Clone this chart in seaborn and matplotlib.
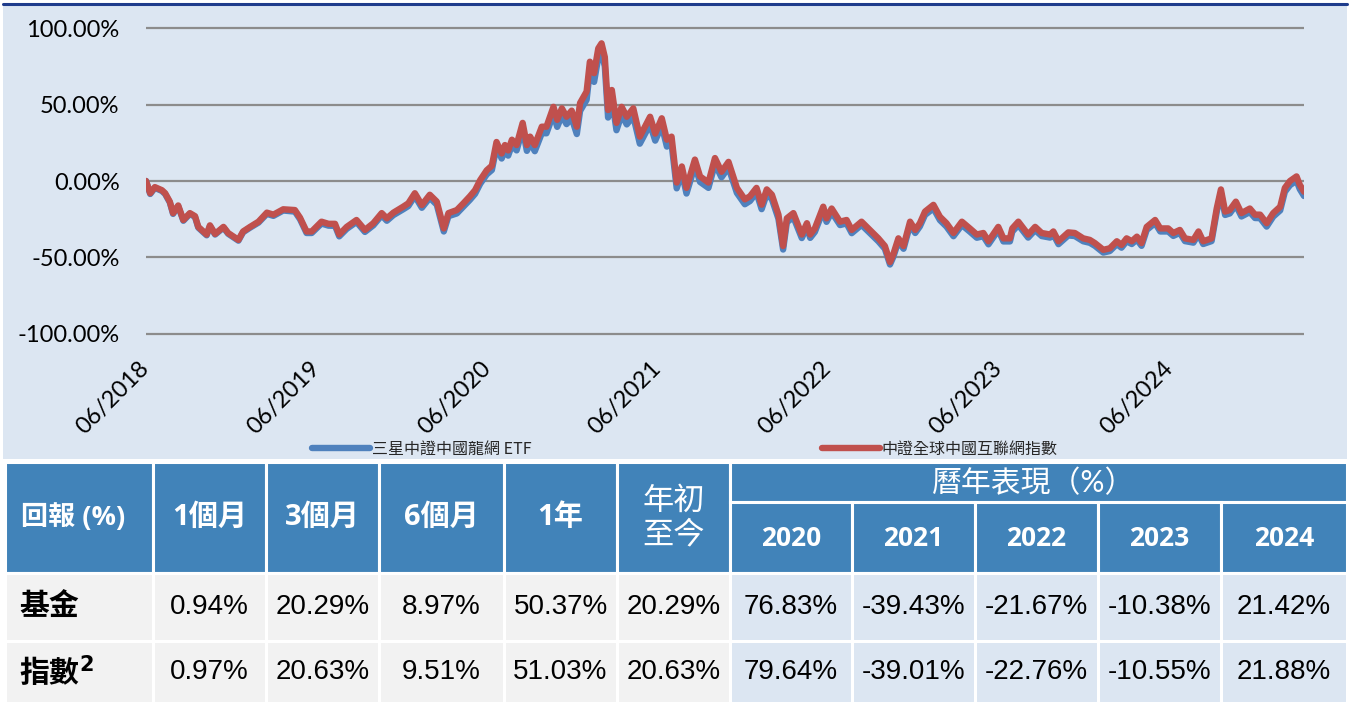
import numpy as np
import pandas as pd
import seaborn as sns
import matplotlib.pyplot as plt
import matplotlib.dates as mdates
from matplotlib.patches import Rectangle
from matplotlib.lines import Line2D
from matplotlib.ticker import FuncFormatter

# ---- 數據 ----
launch = pd.Timestamp('2018-06-15')
days = [0, 9, 19, 34, 41, 51, 58, 69, 80, 94, 105, 112, 130, 137, 148, 166, 176, 198, 208, 223,
        241, 259, 273, 294, 319, 330, 344, 355, 376, 391, 405, 414, 430, 451, 469, 487, 505, 516, 530, 551,
        562, 576, 591, 608, 623, 638, 648, 666, 680, 694, 705, 716, 730, 741, 751, 762, 769, 776, 784, 794,
        807, 816, 823, 833, 848, 858, 873, 881, 891, 901, 912, 923, 930, 944, 951, 960, 969, 976, 983, 990,
        998, 1008, 1019, 1030, 1044, 1058, 1069, 1080, 1091, 1105, 1116, 1126, 1137, 1148, 1158, 1176, 1187, 1205, 1219, 1233,
        1248, 1266, 1283, 1294, 1308, 1319, 1330, 1341, 1355, 1365, 1373, 1387, 1405, 1416, 1423, 1433, 1451, 1458, 1469, 1487,
        1501, 1512, 1533, 1551, 1569, 1583, 1594, 1601, 1612, 1623, 1637, 1648, 1658, 1669, 1687, 1701, 1715, 1730, 1748, 1765,
        1780, 1794, 1805, 1826, 1837, 1851, 1856, 1869, 1890, 1905, 1919, 1937, 1944, 1955, 1976, 1990, 2008, 2022, 2033, 2051,
        2065, 2080, 2090, 2101, 2112, 2123, 2133, 2144, 2162, 2173, 2190, 2201, 2215, 2226, 2244, 2255, 2265, 2283, 2294, 2303,
        2312, 2322, 2335, 2347, 2365, 2376, 2387, 2401, 2415, 2430, 2440, 2451, 2465, 2472, 2481]

index_ret = [0, -8, -4, -6, -8, -13.5, -21, -16, -25.5, -21, -23, -30, -35, -29, -34.6, -30, -34, -38.5, -33, -30,
             -26.6, -20.7, -22, -18.5, -19, -24, -33, -33, -26.6, -28, -28, -35, -30, -25.5, -32, -27.6, -21, -24.4, -20.7, -16.8,
             -14.6, -8, -15.7, -9, -13.5, -31, -21, -19, -14.6, -10, -6, 0.6, 7, 10, 25.5, 18, 23.5, 20, 27, 23.5,
             38, 23.5, 29, 23.5, 35.5, 35.5, 48.5, 40, 47.5, 42, 46, 35.5, 51, 58.5, 78, 70.5, 86.7, 90, 81, 46.4,
             59.5, 38, 48.5, 42, 47.5, 29, 35.5, 42, 31, 41, 27, 29, -1, 9.5, -4.5, 14, 3, -1, 15, 6,
             12.5, -4.5, -12, -10, -4.5, -15.5, -5.5, -9, -22, -42.5, -24.4, -21, -35, -27.6, -35, -31, -16.8, -24.4, -18, -26.6,
             -25.5, -32, -26.6, -32, -37.5, -42.5, -53, -48, -37.5, -42.5, -26.6, -32, -27.6, -20, -15.6, -23.4, -27.6, -34, -26.6, -31,
             -35, -34, -39.4, -30, -37.5, -37.5, -31, -26.6, -35, -30, -34, -35, -33, -39.4, -33.6, -34, -37.5, -38.5, -40.6, -45,
             -44, -39.4, -41.8, -37.5, -39.4, -36.4, -40.6, -30, -25.5, -31, -31, -34, -32, -37.5, -38.5, -33, -39.4, -37.5, -18, -5.5,
             -20, -19, -13.5, -21, -18, -22, -22, -27.6, -21, -16.8, -4.5, 0, 3, -2.5, -7]

fund_ret = [0, -8.5, -4.5, -6.5, -8.5, -14, -21.5, -16.5, -26, -21.5, -23.5, -30.5, -35.5, -29.5, -35, -30.5, -34.5, -39, -33.5, -30.5,
            -27.2, -21.5, -22.8, -19.3, -20, -25, -34, -34, -27.8, -29.2, -29.3, -36.2, -31.3, -26.8, -33.3, -29, -22.5, -26, -22.3, -18.5,
            -16.4, -9.8, -17.5, -11, -15.5, -33, -23, -21.2, -16.8, -12.3, -8.4, -1.8, 4.3, 7.2, 22.3, 14.7, 20.2, 16.6, 23.5, 20,
            34.2, 19.7, 25.1, 19.5, 31.3, 31.2, 43.9, 35.4, 42.8, 37.2, 41.1, 30.7, 45.8, 53.1, 72.2, 64.8, 80.6, 83.8, 75, 41.5,
            54.2, 33.2, 43.4, 37, 42.3, 24.4, 30.8, 37.1, 26.4, 36.2, 22.5, 24.6, -4.8, 5.6, -8.2, 10.1, -0.6, -4.5, 11.2, 2.4,
            8.8, -7.8, -15.2, -13.1, -7.6, -18.4, -8.5, -11.9, -24.7, -44.8, -27, -23.6, -37.3, -30, -37.2, -33.3, -19.3, -26.7, -20.4, -28.8,
            -27.7, -34.1, -28.7, -34, -39.4, -44.3, -54.6, -49.7, -39.4, -44.3, -28.7, -34, -29.7, -22.2, -17.9, -25.6, -29.8, -36.1, -28.8, -33.1,
            -37.1, -36.1, -41.4, -32.1, -39.5, -39.5, -33.1, -28.7, -37, -32.1, -36, -37, -35, -41.3, -35.6, -36, -39.4, -40.4, -42.4, -46.8,
            -45.8, -41.3, -43.6, -39.4, -41.2, -38.3, -42.4, -32, -27.5, -33, -33, -35.9, -33.9, -39.3, -40.3, -34.9, -41.2, -39.3, -20.2, -7.9,
            -22.2, -21.2, -15.8, -23.2, -20.3, -24.2, -24.3, -29.8, -23.3, -19.2, -7.1, -2.7, 0.2, -5.3, -9.8]

fund_name = '三星中證中國龍網 ETF'
index_name = '中證全球中國互聯網指數'
y_ticks = [-100, -50, 0, 50, 100]

# 表格
corner_label = '回報 (%)'
period_heads = ['1個月', '3個月', '6個月', '1年', '年初\n至今']
calendar_head = '曆年表現（%）'
year_heads = ['2020', '2021', '2022', '2023', '2024']
row_names = ['基金', '指數$^{\\mathbf{2}}$']
fund_row = ['0.94%', '20.29%', '8.97%', '50.37%', '20.29%', '76.83%', '-39.43%', '-21.67%', '-10.38%', '21.42%']
index_row = ['0.97%', '20.63%', '9.51%', '51.03%', '20.63%', '79.64%', '-39.01%', '-22.76%', '-10.55%', '21.88%']

# ---- 樣式 ----
BG = '#DCE6F2'
HEAD = '#4183B9'
GRAY = '#F2F2F2'
BLUE = '#4F81BD'
RED = '#C0504D'

sns.set_style('white')
plt.rcParams['font.family'] = ['Lato', 'Noto Sans CJK TC', 'DejaVu Sans']

W, H = 1353, 702
fig = plt.figure(figsize=(W / 100, H / 100), dpi=100)
fig.patch.set_facecolor('white')

# chart background + top rule
fig.add_artist(Rectangle((3 / W, 1 - 459 / H), 1344 / W, 454 / H, transform=fig.transFigure,
                         facecolor=BG, edgecolor='none', zorder=0))
fig.add_artist(Line2D([3 / W, 1347 / W], [1 - 4 / H, 1 - 4 / H], transform=fig.transFigure,
                      color='#1F3C8C', lw=2.2))

df = pd.DataFrame({
    'date': list(launch + pd.to_timedelta(days, unit='D')) * 2,
    'ret': fund_ret + index_ret,
    'series': [fund_name] * len(days) + [index_name] * len(days),
})

ax = fig.add_axes([146 / W, 1 - 337 / H, 1158 / W, 312 / H])
ax.set_facecolor(BG)
sns.lineplot(data=df, x='date', y='ret', hue='series', palette=[BLUE, RED],
             linewidth=4.6, legend=False, ax=ax)
ax.set_ylim(-102, 102)
ax.set_xlim(launch, launch + pd.Timedelta(days=days[-1]))
ax.set_yticks(y_ticks)
ax.yaxis.set_major_formatter(FuncFormatter(lambda v, p: f'{v:.2f}%'))
ax.set_xticks(pd.date_range(launch, periods=7, freq=pd.DateOffset(years=1)))
ax.xaxis.set_major_formatter(mdates.DateFormatter('%m/%Y'))
ax.yaxis.grid(True, color='#8C8C8C', lw=1.6)
ax.xaxis.grid(False)
ax.set_axisbelow(True)
for s in ax.spines.values():
    s.set_visible(False)
ax.set_xlabel('')
ax.set_ylabel('')
ax.tick_params(axis='y', length=0, pad=19, labelsize=17, labelcolor='black')
ax.tick_params(axis='x', length=0, pad=20, labelsize=17, labelcolor='black')
plt.setp(ax.get_xticklabels(), rotation=45, ha='right', va='center', rotation_mode='anchor')

lines = ax.get_lines()
for h, lab, x0 in [(lines[0], fund_name, 312), (lines[1], index_name, 822)]:
    fig.legend(handles=[h], labels=[lab], loc='center left', bbox_to_anchor=(x0 / W, 1 - 449 / H),
               frameon=False, borderpad=0, borderaxespad=0, handlelength=3.6, handletextpad=0.15,
               prop={'family': ['Noto Sans CJK TC', 'DejaVu Sans'], 'size': 11.5})

# ---- 表格 ----
tax = fig.add_axes([0, 0, 1, 1 - 460 / H])
tax.set_xlim(0, W)
tax.set_ylim(H, 460)
tax.axis('off')

cols = [5, 153, 266, 379, 504, 617, 730, 852, 975, 1098, 1221, 1347]
r_top, r_mid, r_head, r_one, r_bot = 462, 502, 573, 641, 703


def cell(x0, x1, y0, y1, color):
    tax.add_patch(Rectangle((x0, y0), x1 - x0, y1 - y0, facecolor=color,
                            edgecolor='white', lw=2.2))


cjk = ['Lato', 'Noto Sans CJK TC']
cjk_bold = ['Open Sans', 'Noto Sans CJK TC']
cell(cols[0], cols[1], r_top, r_head, HEAD)
tax.text((cols[0] + cols[1]) / 2 - 6, (r_top + r_head) / 2, corner_label, color='white',
         fontsize=19.5, fontweight='bold', ha='center', va='center', family=cjk_bold)
for i, lab in enumerate(period_heads):
    x0, x1 = cols[i + 1], cols[i + 2]
    cell(x0, x1, r_top, r_head, HEAD)
    if '\n' in lab:
        tax.text((x0 + x1) / 2, (r_top + r_head) / 2, lab, color='white', fontsize=22.5,
                 ha='center', va='center', family=cjk, linespacing=1.2)
    else:
        tax.text((x0 + x1) / 2, (r_top + r_head) / 2, lab, color='white', fontsize=21,
                 fontweight='bold', ha='center', va='center', family=cjk_bold)
cell(cols[6], cols[11], r_top, r_mid, HEAD)
tax.text((cols[6] + cols[11]) / 2 - 5, (r_top + r_mid) / 2 + 1, calendar_head, color='white',
         fontsize=21.5, ha='center', va='center', family=cjk)
for i, lab in enumerate(year_heads):
    x0, x1 = cols[i + 6], cols[i + 7]
    cell(x0, x1, r_mid, r_head, HEAD)
    tax.text((x0 + x1) / 2, (r_mid + r_head) / 2 + 1, lab, color='white', fontsize=19,
             fontweight='bold', ha='center', va='center', family=cjk_bold)

for (y0, y1), name, vals in [((r_head, r_one), row_names[0], fund_row),
                             ((r_one, r_bot), row_names[1], index_row)]:
    cell(cols[0], cols[1], y0, y1, GRAY)
    tax.text(19, (y0 + y1) / 2, name, color='black', fontsize=21.5, fontweight='bold',
             ha='left', va='center', family=['Noto Sans CJK TC', 'DejaVu Sans'])
    for j, v in enumerate(vals):
        x0, x1 = cols[j + 1], cols[j + 2]
        cell(x0, x1, y0, y1, GRAY if j < 5 else BG)
        tax.text((x0 + x1) / 2, (y0 + y1) / 2, v, color='black', fontsize=20,
                 ha='center', va='center', family=['Liberation Sans'])

fig.savefig('out.png', dpi=100)
